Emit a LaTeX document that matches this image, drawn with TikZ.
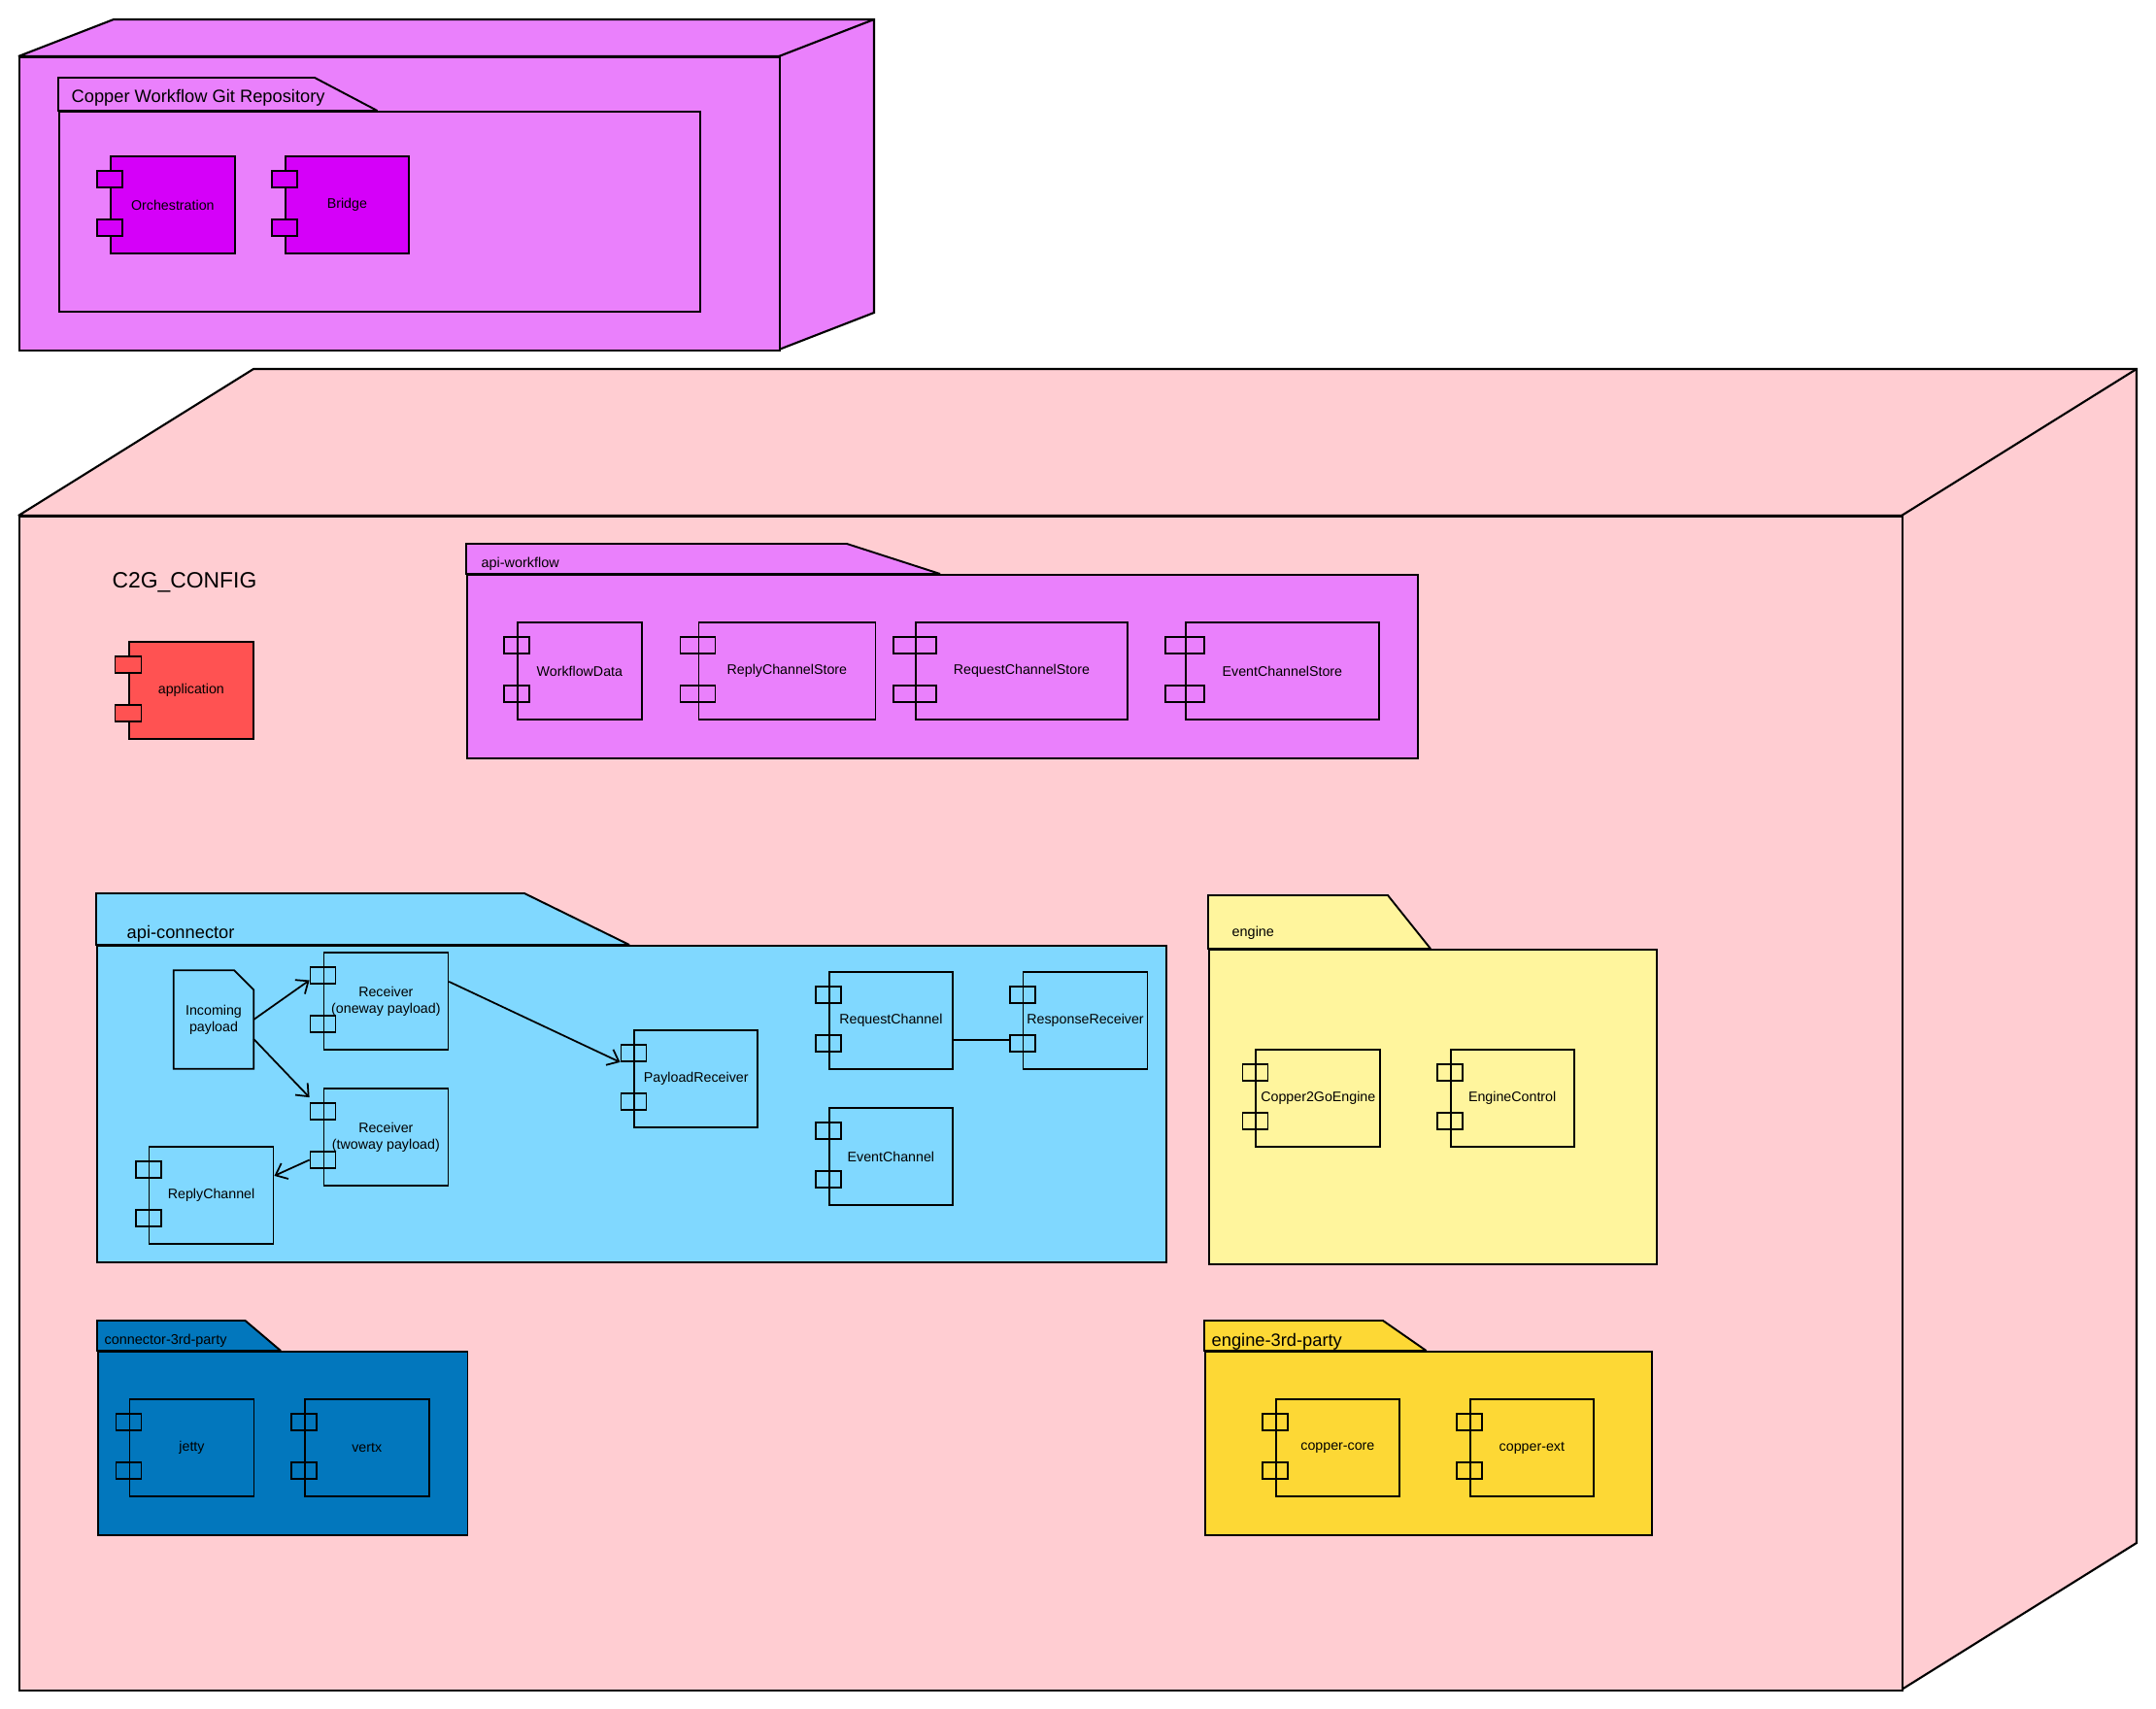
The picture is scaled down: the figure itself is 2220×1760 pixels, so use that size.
\documentclass[tikz,border=0pt]{standalone}
\usepackage{fontspec}
\setmainfont{Liberation Sans}
\usetikzlibrary{calc,arrows.meta}
\definecolor{pinkN}{HTML}{FFCDD2}
\definecolor{magL}{HTML}{EA80FC}
\definecolor{purpC}{HTML}{D500F9}
\definecolor{redC}{HTML}{FF5252}
\definecolor{blueL}{HTML}{80D8FF}
\definecolor{yelL}{HTML}{FFF59D}
\definecolor{yelD}{HTML}{FDD835}
\definecolor{blueD}{HTML}{0277BD}
\newcommand\fcomp{\fontsize{4.05pt}{4.8pt}\selectfont}
\newcommand\fpsmall{\fontsize{4.1pt}{4.8pt}\selectfont}
\newcommand\fplarge{\fontsize{5.2pt}{6pt}\selectfont}
\newcommand\fbig{\fontsize{6.5pt}{7.5pt}\selectfont}
\tikzset{
  compbox/.style={draw,line width=0.5pt,minimum height=1cm,inner sep=0pt,align=center,font=\fcomp},
  portbox/.style={draw,line width=0.5pt,minimum height=0.17cm,inner sep=0pt},
  pkgbody/.style={draw,line width=0.55pt,inner sep=0pt},
  pkgline/.style={draw,line width=0.55pt,line join=miter,miter limit=2},
  cubeline/.style={draw,line width=0.6pt,line join=miter,miter limit=2},
  pkglabel/.style={anchor=west,inner sep=0pt},
  conn/.style={line width=0.5pt,-{Straight Barb[length=3pt,width=5pt,line width=0.5pt]}},
}
% component: name, left, top, width, port width, box fill, port fill, label
\newcommand\comp[8]{%
  \node[compbox,fill=#6,minimum width={#4*0.01cm},anchor=north west] (#1) at (#2,#3) {#8};
  \node[portbox,fill=#7,minimum width={#5*0.01cm}] (#1-p1) at ($(#1.north west)+(0,24.5)$) {};
  \node[portbox,fill=#7,minimum width={#5*0.01cm}] (#1-p2) at ($(#1.north west)+(0,74.5)$) {};
}
% package: name, left, tabtop, tabright, slantx, bodytop, right, bottom, fill
\newcommand\pkg[9]{%
  \node[pkgbody,fill=#9,minimum width={(#7-#2)*0.01cm},minimum height={(#8-#6)*0.01cm},anchor=north west] (#1) at (#2,#6) {};
  \draw[pkgline,fill=#9] (#1.north west) -- (#2,#3) -- (#4,#3) -- (#5,#6) -- cycle;
}
% 3D node: name, left, top, right, bottom, dx, dy, fill
\newcommand\cubenode[8]{%
  \draw[cubeline,fill=#8] (#2,#3) -- ({#2+#6},{#3-#7}) -- ({#4+#6},{#3-#7}) -- ({#4+#6},{#5-#7}) -- (#4,#5) -- (#4,#3) -- cycle;
  \draw[cubeline] (#4,#3) -- ({#4+#6},{#3-#7});
  \node[draw,line width=0.6pt,fill=#8,inner sep=0pt,anchor=north west,minimum width={(#4-#2)*0.01cm},minimum height={(#5-#3)*0.01cm}] (#1) at (#2,#3) {};
}
\begin{document}
\begin{tikzpicture}[x=0.01cm,y=-0.01cm]
\useasboundingbox[fill=white] (0,0) rectangle (2220,1760);

% ---------- top node ----------
\cubenode{repoNode}{19}{58}{802}{360}{98}{38}{magL}
\pkg{repo}{60}{80}{324}{388.5}{114}{720}{320}{magL}
\node[pkglabel,font=\fplarge] (repoLabel) at (73,101) {Copper Workflow Git Repository};
\comp{orch}{113}{160}{128}{26}{purpC}{purpC}{Orchestration}
\comp{bridge}{293}{160}{127}{26}{purpC}{purpC}{Bridge}

% ---------- big node ----------
\cubenode{c2g}{19}{531}{1958}{1740}{242}{151}{pinkN}
\node[pkglabel,font=\fbig] (c2gLabel) at (115,600) {C2G\_CONFIG};
\comp{app}{132}{660}{128}{27}{redC}{redC}{application}

% api-workflow
\pkg{apiwf}{480}{560}{872}{968}{591}{1459}{780}{magL}
\node[pkglabel,font=\fpsmall] (apiwfLabel) at (495,581) {api-workflow};
\comp{wfd}{532}{640}{128}{26}{none}{none}{WorkflowData}
\comp{rcs}{718.5}{640}{182}{36}{none}{none}{ReplyChannelStore}
\comp{rqs}{942}{640}{218}{44}{none}{none}{RequestChannelStore}
\comp{ecs}{1220}{640}{199}{40}{none}{none}{EventChannelStore}

% api-connector
\pkg{apicon}{99}{920}{540}{648}{973}{1200}{1299}{blueL}
\node[pkglabel,font=\fplarge] (apiconLabel) at (130,962) {api-connector};
\node[minimum width=0.81cm,minimum height=1cm,inner sep=0pt,align=center,font=\fcomp] (inc) at (220,1050) {Incoming\\payload};
\draw[line width=0.5pt,line join=miter] (inc.south west) -- (inc.north west) -- ($(inc.north east)+(-20,0)$) -- ($(inc.north east)+(0,20)$) -- (inc.south east) -- cycle;
\comp{r1}{332.5}{980}{128}{26}{none}{none}{Receiver\\(oneway payload)}
\comp{r2}{332.5}{1120}{128}{26}{none}{none}{Receiver\\(twoway payload)}
\comp{rc}{152.7}{1180}{128}{26}{none}{none}{ReplyChannel}
\comp{pr}{652.4}{1060}{127}{26}{none}{none}{PayloadReceiver}
\comp{rq}{853}{1000}{127}{26}{none}{none}{RequestChannel}
\comp{rr}{1052.7}{1000}{128}{26}{none}{none}{ResponseReceiver}
\comp{ec}{853}{1140}{127}{26}{none}{none}{EventChannel}

\draw[conn] (inc.east) -- ($(r1-p1.west)+(0,5)$);
\draw[conn] ($(inc.east)+(0,20)$) -- ($(r2-p1.north west)+(0,-5)$);
\draw[conn] (r2-p2.west) -- ($(rc.east)+(0,-20)$);
\draw[conn] ($(r1.east)+(0,-20)$) -- (pr-p1.south west);
\coordinate (l5) at ($(rq.east)+(0,20)$);
\draw[line width=0.6pt] (l5) -- (l5 -| rr-p2.west);

% engine
\pkg{engine}{1244}{922}{1429}{1473}{977}{1705}{1301}{yelL}
\node[pkglabel,font=\fpsmall] (engineLabel) at (1268,961) {engine};
\comp{c2ge}{1292.4}{1080}{128}{26}{none}{none}{Copper2GoEngine}
\comp{ectl}{1492.8}{1080}{127}{26}{none}{none}{EngineControl}

% connector-3rd-party
\pkg{con3}{100}{1360}{252.5}{289}{1391}{480.5}{1580}{blueD}
\node[pkglabel,font=\fpsmall] (con3Label) at (107,1381) {connector-3rd-party};
\comp{jetty}{132.6}{1440}{128}{26}{none}{none}{jetty}
\comp{vertx}{312.9}{1440}{128}{26}{none}{none}{vertx}

% engine-3rd-party
\pkg{eng3}{1240}{1360}{1424}{1468.6}{1391}{1700}{1580}{yelD}
\node[pkglabel,font=\fplarge] (eng3Label) at (1247,1382) {engine-3rd-party};
\comp{ccore}{1313}{1440}{127}{26}{none}{none}{copper-core}
\comp{cext}{1513}{1440}{127}{26}{none}{none}{copper-ext}
\end{tikzpicture}
\end{document}
